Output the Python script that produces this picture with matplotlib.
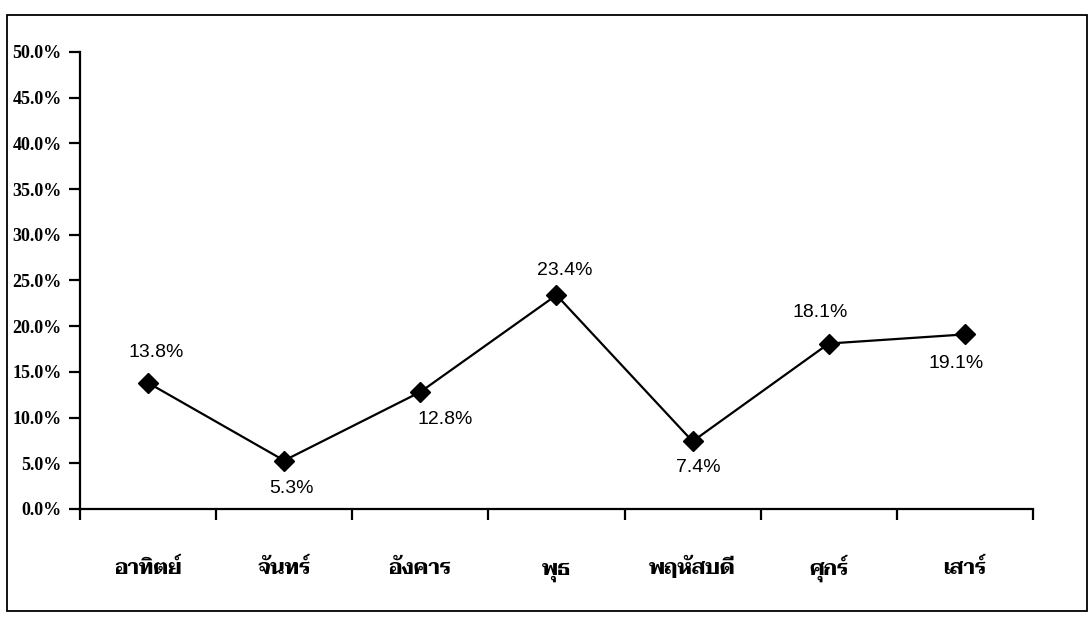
import numpy as np
import matplotlib
matplotlib.use("Agg")
import matplotlib.pyplot as plt
from matplotlib.patches import Rectangle
from matplotlib.ticker import FixedLocator, PercentFormatter

days = ["อาทิตย์", "จันทร์", "อังคาร", "พุธ", "พฤหัสบดี", "ศุกร์", "เสาร์"]
shares = [13.8, 5.3, 12.8, 23.4, 7.4, 18.1, 19.1]
# where each value label sits relative to its point (points)
label_offsets = [(6, 22), (5, -20), (18, -20), (6, 18), (4, -19), (-6, 22), (-6, -21)]

fig = plt.figure(figsize=(10.91, 6.21), dpi=100)
ax = fig.add_axes([0.0733, 0.1804, 0.8735, 0.7359])

x = np.arange(len(days))
ax.plot(x, shares, color="black", linewidth=1.6, marker="D", markersize=10,
        markerfacecolor="black", markeredgecolor="black")

for xi, v, (dx, dy) in zip(x, shares, label_offsets):
    ax.annotate(f"{v:.1f}%", (xi, v), xytext=(dx, dy), textcoords="offset points",
                ha="center", va="center", fontsize=14, family="Liberation Sans")

ax.set_xlim(-0.5, len(days) - 0.5)
ax.set_ylim(0, 50)
ax.set_yticks(np.arange(0, 51, 5))
ax.yaxis.set_major_formatter(PercentFormatter(decimals=1))
ax.set_xticks(x)
ax.set_xticklabels(days)
ax.xaxis.set_minor_locator(FixedLocator(np.arange(-0.5, len(days), 1)))

for s in ["top", "right"]:
    ax.spines[s].set_visible(False)
for s in ["left", "bottom"]:
    ax.spines[s].set_linewidth(1.6)

ax.tick_params(axis="x", which="major", length=0, pad=47)
ax.tick_params(axis="x", which="minor", length=8, width=1.6, direction="out")
ax.tick_params(axis="y", length=8, width=1.6, pad=5)

for lab in ax.get_yticklabels():
    lab.set_family("Liberation Serif")
    lab.set_fontweight("bold")
    lab.set_fontsize(13)
for lab in ax.get_xticklabels():
    lab.set_family(["Taviraj", "DejaVu Sans"])
    lab.set_fontweight("bold")
    lab.set_fontsize(15)
    lab.set_verticalalignment("baseline")

# chart area border
fig.patches.append(Rectangle((0.0064, 0.0161), 0.9899, 0.9597, transform=fig.transFigure,
                             fill=False, edgecolor="black", linewidth=1.3))

fig.savefig("out.png", dpi=100)
